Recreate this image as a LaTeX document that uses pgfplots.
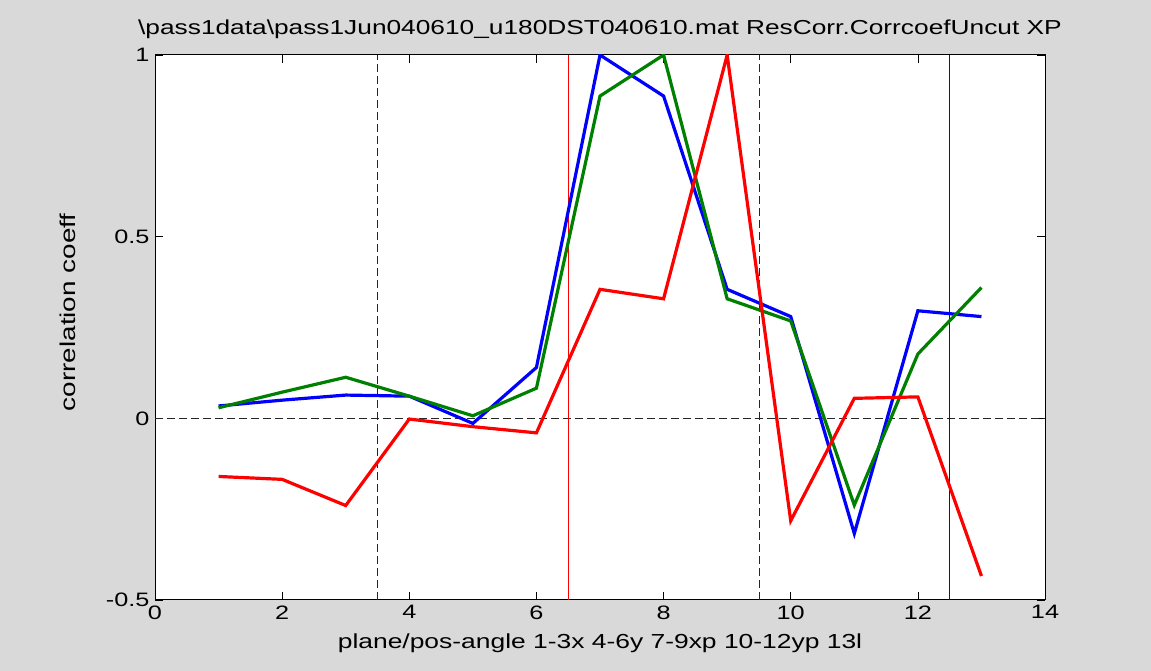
\documentclass[border=0pt]{standalone}
\usepackage{pgfplots}
\pgfplotsset{compat=1.18}
\usepackage{fontspec}
\setmainfont{Liberation Sans}[FakeStretch=1.3]
\definecolor{bg}{RGB}{217,217,217}
\definecolor{mgreen}{RGB}{0,128,0}
\begin{document}
\begin{tikzpicture}[x=1bp,y=1bp]
\fill[bg] (0,0) rectangle (1151,671);
\begin{axis}[
  at={(155bp,71bp)}, anchor=south west,
  scale only axis, width=890bp, height=545bp,
  xmin=0, xmax=14, ymin=-0.5, ymax=1,
  xtick={0,2,...,14},
  ytick={-0.5,0,0.5,1}, yticklabels={-0.5,0,0.5,1},
  tick align=inside, major tick length=8bp,
  tick style={black, line width=0.6bp},
  axis line style={black, line width=1bp},
  axis background/.style={fill=white},
  /pgf/number format/assume math mode=true,
  every tick label/.append style={font=\fontsize{19.5}{22}\selectfont},
  xticklabel style={yshift=-2bp},
  yticklabel style={xshift=-2bp},
  no markers,
  title={\textbackslash pass1data\textbackslash pass1Jun040610\_u180DST040610.mat ResCorr.CorrcoefUncut XP},
  title style={font=\fontsize{20.3}{22}\selectfont, at={(axis description cs:0.5,1.036)}, anchor=center},
  xlabel={plane/pos-angle 1-3x 4-6y 7-9xp 10-12yp 13l},
  xlabel style={font=\fontsize{20.4}{22}\selectfont, at={(axis description cs:0.5,-0.079)}, anchor=center},
  ylabel={correlation coeff},
  ylabel style={font=\fontsize{21.5}{24}\selectfont, at={(axis description cs:-0.098,0.528)}, anchor=center, rotate=0},
]
\addplot[black!85, line width=0.8bp, dash pattern=on 8bp off 4bp] coordinates {(0,0) (14,0)};
\addplot[black!85, line width=0.8bp, dash pattern=on 8bp off 4bp] coordinates {(3.5,-0.5) (3.5,1)};
\addplot[black!85, line width=0.8bp, dash pattern=on 8bp off 4bp] coordinates {(9.5,-0.5) (9.5,1)};
\addplot[red, line width=1.1bp] coordinates {(6.5,-0.5) (6.5,1)};
\addplot[blue, line width=1.1bp] coordinates {(12.5,-0.5) (12.5,1)};
\addplot[blue, line width=3.2bp] coordinates {(1,0.034)(2,0.05)(3,0.064)(4,0.061)(5,-0.014)(6,0.14)(7,1.0)(8,0.887)(9,0.355)(10,0.28)(11,-0.317)(12,0.296)(13,0.28)};
\addplot[mgreen, line width=3.2bp] coordinates {(1,0.029)(2,0.072)(3,0.113)(4,0.061)(5,0.007)(6,0.083)(7,0.887)(8,1.0)(9,0.329)(10,0.268)(11,-0.239)(12,0.177)(13,0.36)};
\addplot[red, line width=3.2bp] coordinates {(1,-0.16)(2,-0.168)(3,-0.24)(4,-0.002)(5,-0.023)(6,-0.04)(7,0.355)(8,0.329)(9,1.0)(10,-0.282)(11,0.055)(12,0.059)(13,-0.434)};
\end{axis}
\end{tikzpicture}
\end{document}
